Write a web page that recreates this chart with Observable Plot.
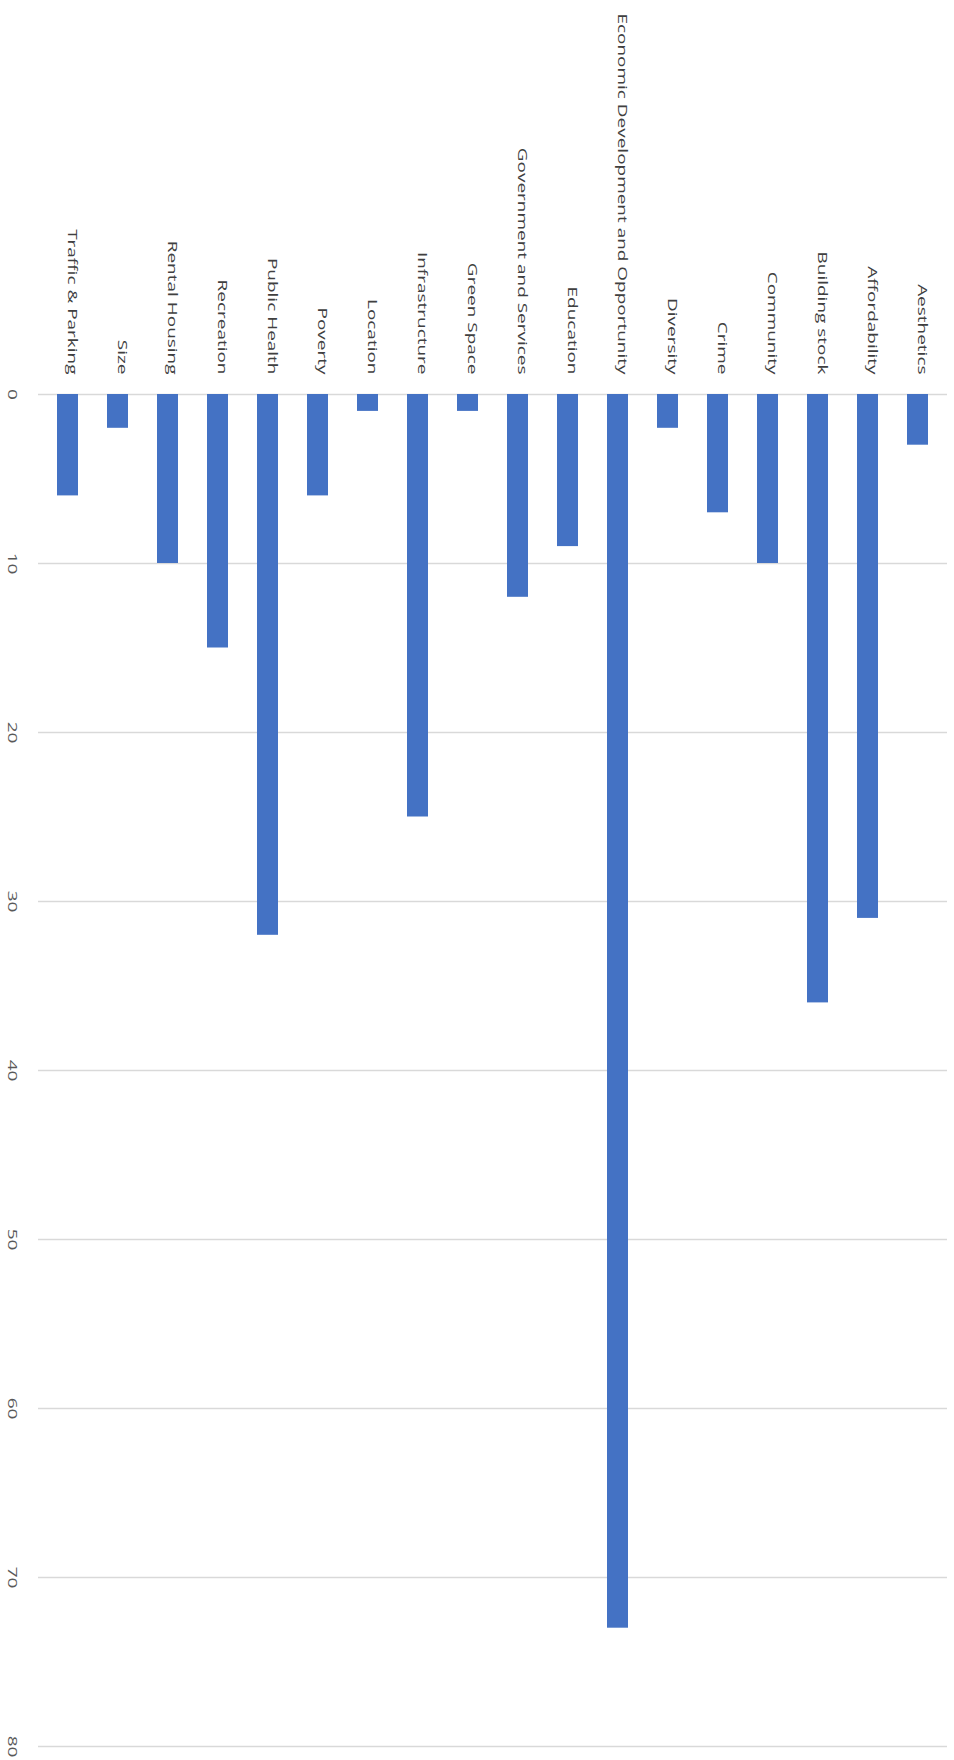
<!DOCTYPE html>
<html>
<head>
<meta charset="utf-8">
<script src="https://cdn.jsdelivr.net/npm/d3@7"></script>
<script src="https://cdn.jsdelivr.net/npm/@observablehq/plot@0.6"></script>
<style>
  html, body { margin: 0; padding: 0; background: #ffffff; }
  #chart svg { display: block; }
</style>
</head>
<body>
<div id="chart"></div>
<script>
const categories = [
  "Traffic & Parking", "Size", "Rental Housing", "Recreation", "Public Health",
  "Poverty", "Location", "Infrastructure", "Green Space", "Government and Services",
  "Education", "Economic Development and Opportunity", "Diversity", "Crime",
  "Community", "Building stock", "Affordability", "Aesthetics"
];
const values = [6, 2, 10, 15, 32, 6, 1, 25, 1, 12, 9, 73, 2, 7, 10, 36, 31, 3];
const yTicks = [0, 10, 20, 30, 40, 50, 60, 70, 80];

const data = categories.map((c, i) => ({category: c, value: values[i]}));

const chart = Plot.plot({
  width: 954,
  height: 1760,
  marginTop: 394,
  marginBottom: 14,
  marginLeft: 38,
  marginRight: 7,
  style: {fontFamily: "'Open Sans', sans-serif", fontSize: "13px", color: "#595959", background: "#ffffff"},
  x: {domain: categories, paddingInner: 0.59, paddingOuter: 0.34},
  y: {domain: [0, 80], reverse: true},
  marks: [
    Plot.gridY(yTicks, {stroke: "#d9d9d9", strokeOpacity: 1, strokeWidth: 1.5}),
    Plot.barY(data, {x: "category", y: "value", fill: "#4472c4"}),
    Plot.axisX({anchor: "top", tickSize: 0, tickPadding: 20, rotate: 90, textAnchor: "end", label: null, fill: "#404040"}),
    Plot.axisY({anchor: "left", ticks: yTicks, tickSize: 0, tickPadding: 26, rotate: 90, textAnchor: "middle", label: null, fill: "#595959"})
  ]
});

// stretch labels along their reading direction, as in the reference
d3.select(chart).selectAll("g[aria-label='x-axis tick label'] text, g[aria-label='y-axis tick label'] text")
  .each(function() {
    const t = this.getAttribute("transform") || "";
    this.setAttribute("transform", t + " scale(1.46,1)");
  });

document.getElementById("chart").appendChild(chart);
</script>
</body>
</html>
